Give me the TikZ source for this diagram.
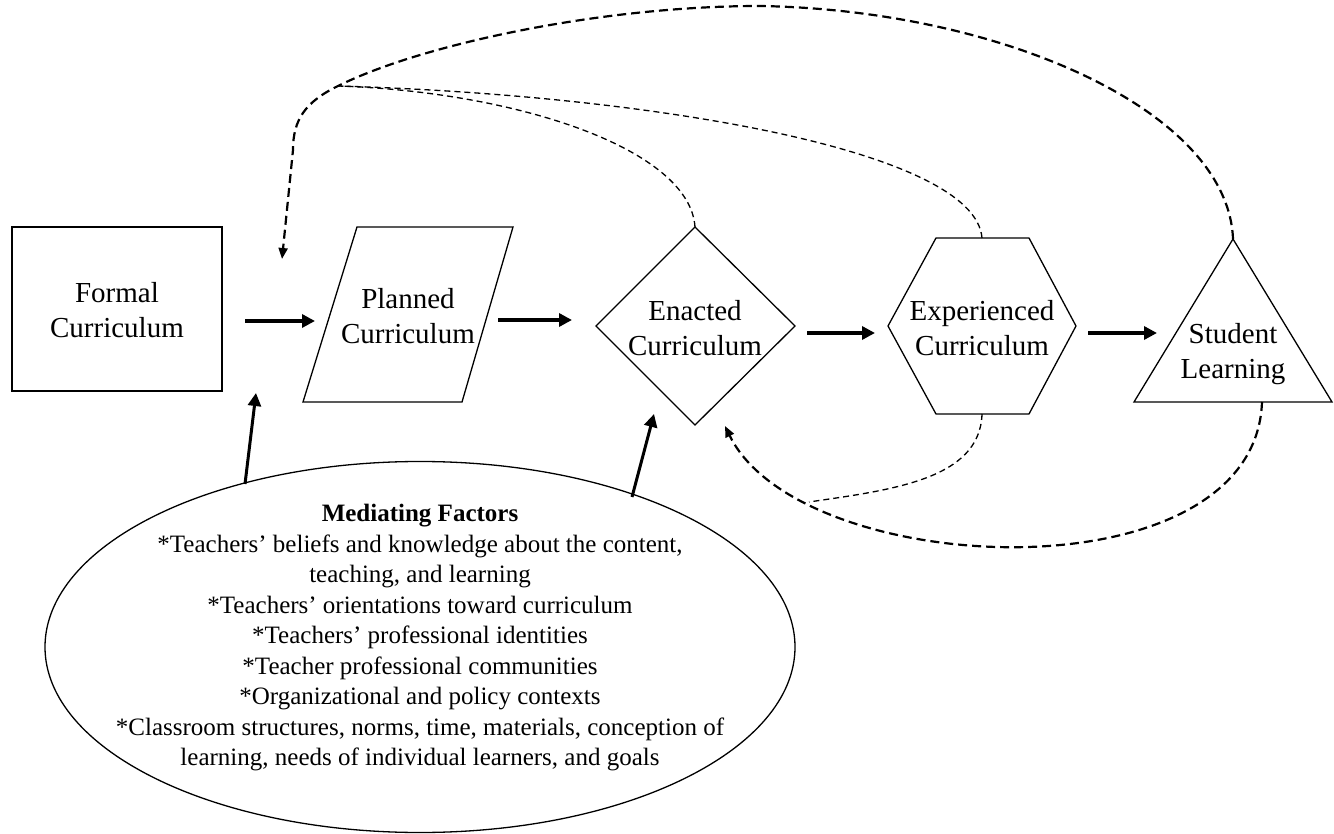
\documentclass[tikz,border=0pt]{standalone}
\usepackage{fontspec}
\setmainfont{Liberation Serif}
\usetikzlibrary{arrows.meta,shapes.geometric}
\begin{document}
\begin{tikzpicture}[x=1pt,y=-1pt,
  shp/.style={draw, line width=1.3pt, line join=miter},
  lbl/.style={font=\fontsize{29}{35}\selectfont, align=center, inner sep=0pt},
  mflbl/.style={font=\fontsize{25}{30.5}\selectfont, align=center, inner sep=0pt},
  flow/.style={line width=3.3pt, -{Triangle[length=13pt,width=13pt]}},
  bigdash/.style={line width=2.2pt, dash pattern=on 9pt off 5pt},
  smalldash/.style={line width=1.3pt, dash pattern=on 6pt off 4pt},
  dtip/.style={-{Triangle[length=11pt,width=9pt]}}]
\useasboundingbox (0,0) rectangle (1334,834);

% shapes
\node[shp, minimum width=210pt, minimum height=164pt, inner sep=0pt] (formal) at (117,309) {};
\draw[shp] (303,402) -- (462,402) -- (513,227) -- (357,227) -- cycle;
\draw[shp] (695,227) -- (795,326) -- (695,425) -- (596,326) -- cycle;
\draw[shp] (936,238) -- (1029,238) -- (1076,326) -- (1029,414) -- (936,414) -- (888,326) -- cycle;
\draw[shp] (1233,239) -- (1332,402) -- (1134,402) -- cycle;
\node[shp, ellipse, minimum width=750pt, minimum height=371pt, inner sep=0pt] (mf) at (420,647) {};

% labels
\node[lbl] (formaltxt) at (117,309.6) {Formal\\Curriculum};
\node[lbl] (planned) at (408,315.6) {Planned\\Curriculum};
\node[lbl] (enacted) at (695,327.6) {Enacted\\Curriculum};
\node[lbl] (experienced) at (982,327.6) {Experienced\\Curriculum};
\node[lbl] (student) at (1233,353.8) {Student\\Learning};
\node[mflbl] (mftxt) at (420,638) {\textbf{Mediating Factors}\\{*}Teachers’ beliefs and knowledge about the content,\\teaching, and learning\\{*}Teachers’ orientations toward curriculum\\{*}Teachers’ professional identities\\{*}Teacher professional communities\\{*}Organizational and policy contexts\\{*}Classroom structures, norms, time, materials, conception of\\learning, needs of individual learners, and goals};

% anchor coordinates
\coordinate (enN) at (695,227);
\coordinate (exN) at (982,238);
\coordinate (exS) at (982,414);
\coordinate (slN) at (1233,239);
\coordinate (slS) at (1262,402);
\coordinate (jn) at (338,86);
\coordinate (fbTip) at (282,259);
\coordinate (enTip) at (725,426);
\coordinate (mg) at (809,502);
\coordinate (a1s) at (245,321); \coordinate (a1e) at (315,321);
\coordinate (a2s) at (498,320); \coordinate (a2e) at (572,320);
\coordinate (a3s) at (807,333); \coordinate (a3e) at (875,333);
\coordinate (a4s) at (1088,333); \coordinate (a4e) at (1157,333);
\coordinate (m1s) at (245,484); \coordinate (m1e) at (256,393);
\coordinate (m2s) at (632,497); \coordinate (m2e) at (654,414);

% flow arrows
\draw[flow] (a1s) -- (a1e);
\draw[flow] (a2s) -- (a2e);
\draw[flow] (a3s) -- (a3e);
\draw[flow] (a4s) -- (a4e);
\draw[flow, line width=3pt] (m1s) -- (m1e);
\draw[flow, line width=3pt] (m2s) -- (m2e);

% feedback dashed curves
\draw[bigdash, dtip] (slN) .. controls (1228,110) and (1000,10) .. (760,6)
  .. controls (600,6) and (420,45) .. (jn)
  .. controls (305,102) and (293,120) .. (293,150) -- (fbTip);
\draw[smalldash] (enN) .. controls (690,150) and (520,92) .. (jn);
\draw[smalldash] (exN) .. controls (975,150) and (650,95) .. (jn);
\draw[bigdash, dtip] (slS) .. controls (1255,600) and (800,580) .. (enTip);
\draw[smalldash] (exS) .. controls (980,480) and (890,490) .. (mg);
\end{tikzpicture}
\end{document}
